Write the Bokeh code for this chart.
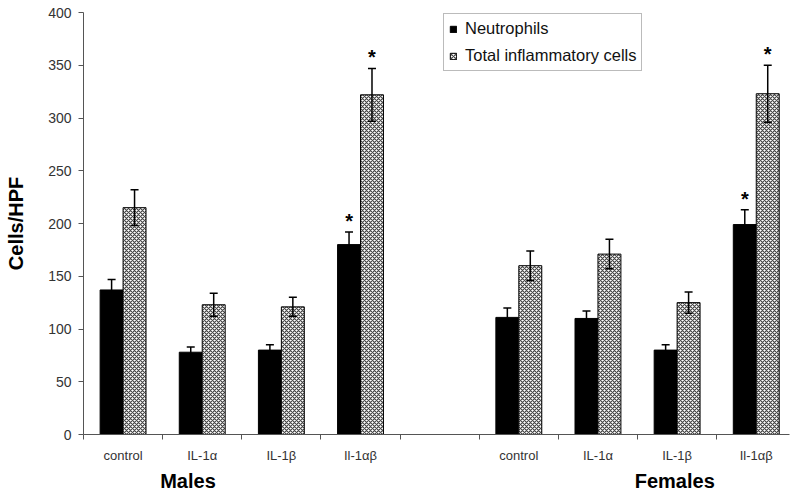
from bokeh.plotting import figure
from bokeh.models import (ColumnDataSource, Whisker, FixedTicker, LinearAxis,
                          Range1d, TeeHead)
from bokeh.core.properties import value
from bokeh.embed import file_html
from bokeh.resources import INLINE

# ---------------- data ----------------
treatments = ["control", "IL-1\u03b1", "IL-1\u03b2", "Il-1\u03b1\u03b2"]
groups = ["Males", "Females"]

males_neutrophils = [137, 78, 80, 180]
males_neutrophils_err = [10, 5, 5, 12]
males_total = [215, 123, 121, 322]
males_total_err = [17, 11, 9, 25]

females_neutrophils = [111, 110, 80, 199]
females_neutrophils_err = [9, 7, 5, 14]
females_total = [160, 171, 125, 323]
females_total_err = [14, 14, 10, 27]

males_neutrophils_sig = [False, False, False, True]
males_total_sig = [False, False, False, True]
females_neutrophils_sig = [False, False, False, True]
females_total_sig = [False, False, False, True]

y_ticks = [0, 50, 100, 150, 200, 250, 300, 350, 400]

# ---------------- layout helpers ----------------
FONT = "Liberation Sans"
BAR_W = 0.29
n_t = len(treatments)
slot = lambda g, i: g * (n_t + 1) + i          # one empty slot between groups
centers = [slot(g, i) for g in range(len(groups)) for i in range(n_t)]
labels = [t for g in groups for t in treatments]
n_slots = len(groups) * (n_t + 1) - 1
boundaries = [k - 0.5 for k in range(n_slots + 1)]

neut = males_neutrophils + females_neutrophils
neut_err = males_neutrophils_err + females_neutrophils_err
tot = males_total + females_total
tot_err = males_total_err + females_total_err
neut_sig = males_neutrophils_sig + females_neutrophils_sig
tot_sig = males_total_sig + females_total_sig

x_neut = [c - BAR_W / 2 for c in centers]
x_tot = [c + BAR_W / 2 for c in centers]

src_neut = ColumnDataSource(dict(x=x_neut, top=neut,
                                 upper=[v + e for v, e in zip(neut, neut_err)],
                                 lower=[v - e for v, e in zip(neut, neut_err)]))
src_tot = ColumnDataSource(dict(x=x_tot, top=tot,
                                upper=[v + e for v, e in zip(tot, tot_err)],
                                lower=[v - e for v, e in zip(tot, tot_err)]))

star_x = [x for x, s in zip(x_neut, neut_sig) if s] + [x for x, s in zip(x_tot, tot_sig) if s]
star_y = ([v + e for v, e, s in zip(neut, neut_err, neut_sig) if s] +
          [v + e for v, e, s in zip(tot, tot_err, tot_sig) if s])
src_star = ColumnDataSource(dict(x=star_x, y=star_y, t=["*"] * len(star_x)))

# ---------------- figure ----------------
p = figure(width=790, height=495,
           x_range=Range1d(-0.5, n_slots - 0.58), y_range=Range1d(0, 400),
           output_backend="svg", toolbar_location=None,
           min_border_left=83, min_border_right=1, min_border_top=12, min_border_bottom=61)
p.xgrid.visible = False
p.ygrid.visible = False
p.outline_line_color = None
p.background_fill_color = "white"
p.border_fill_color = "white"

p.vbar(x="x", top="top", width=BAR_W, bottom=0, source=src_neut,
       fill_color="black", line_color="black", line_width=1,
       legend_label="Neutrophils")
p.vbar(x="x", top="top", width=BAR_W, bottom=0, source=src_tot,
       fill_color="white", line_color="black", line_width=1,
       hatch_pattern="diagonal_cross", hatch_color="#444444",
       hatch_scale=4, hatch_weight=1.2,
       legend_label="Total inflammatory cells")

for src in (src_neut, src_tot):
    w = Whisker(source=src, base="x", upper="upper", lower="lower",
                line_color="black", line_width=1.5,
                upper_head=TeeHead(size=8, line_color="black", line_width=1.5),
                lower_head=TeeHead(size=8, line_color="black", line_width=1.5))
    w.level = "overlay"
    p.add_layout(w)

p.text(x="x", y="y", text="t", source=src_star,
       text_font=value(FONT), text_font_size="20px", text_font_style="bold",
       text_align="center", text_baseline="middle", y_offset=-11, text_color="black")

# y axis
ya = p.yaxis[0]
ya.ticker = FixedTicker(ticks=y_ticks)
ya.axis_label = "Cells/HPF"
ya.axis_label_text_font = FONT
ya.axis_label_text_font_size = "20px"
ya.axis_label_text_font_style = "bold"
ya.axis_label_text_color = "black"
ya.axis_label_standoff = 18
ya.major_label_text_font = FONT
ya.major_label_text_font_size = "14px"
ya.major_label_text_color = "#333333"
ya.major_label_standoff = 7
ya.major_tick_out = 5
ya.major_tick_in = 0
ya.minor_tick_out = 0
ya.minor_tick_in = 0
ya.axis_line_color = "#555555"
ya.major_tick_line_color = "#555555"

# x axis (categories)
xa = p.xaxis[0]
xa.ticker = FixedTicker(ticks=centers, minor_ticks=boundaries)
xa.major_label_overrides = {float(c): l for c, l in zip(centers, labels)}
xa.major_label_text_font = FONT
xa.major_label_text_font_size = "13px"
xa.major_label_text_color = "#333333"
xa.major_label_standoff = 8
xa.major_tick_out = 0
xa.major_tick_in = 0
xa.major_tick_line_color = None
xa.minor_tick_out = 5
xa.minor_tick_in = 0
xa.minor_tick_line_color = "#555555"
xa.axis_line_color = "#555555"

# group labels axis
group_pos = [0.82, 6.97]
ga = LinearAxis(ticker=FixedTicker(ticks=group_pos),
                major_label_overrides={float(x): g for x, g in zip(group_pos, groups)},
                axis_line_color=None, major_tick_line_color=None, minor_tick_line_color=None,
                major_tick_out=0, major_tick_in=0, minor_tick_out=0, minor_tick_in=0,
                major_label_text_font=FONT, major_label_text_font_size="20px",
                major_label_text_font_style="bold", major_label_text_color="black",
                major_label_standoff=4)
p.add_layout(ga, "below")

# legend
lg = p.legend[0]
lg.location = (360, 363)
lg.margin = 0
lg.padding = 5
lg.spacing = 8
lg.glyph_width = 8
lg.glyph_height = 8
lg.label_height = 18
lg.label_standoff = 8
lg.label_text_font = FONT
lg.label_text_font_size = "16.5px"
lg.label_text_color = "#111111"
lg.border_line_color = "#777777"
lg.border_line_width = 1
lg.background_fill_alpha = 1

open("out.html", "w").write(file_html(p, INLINE))
